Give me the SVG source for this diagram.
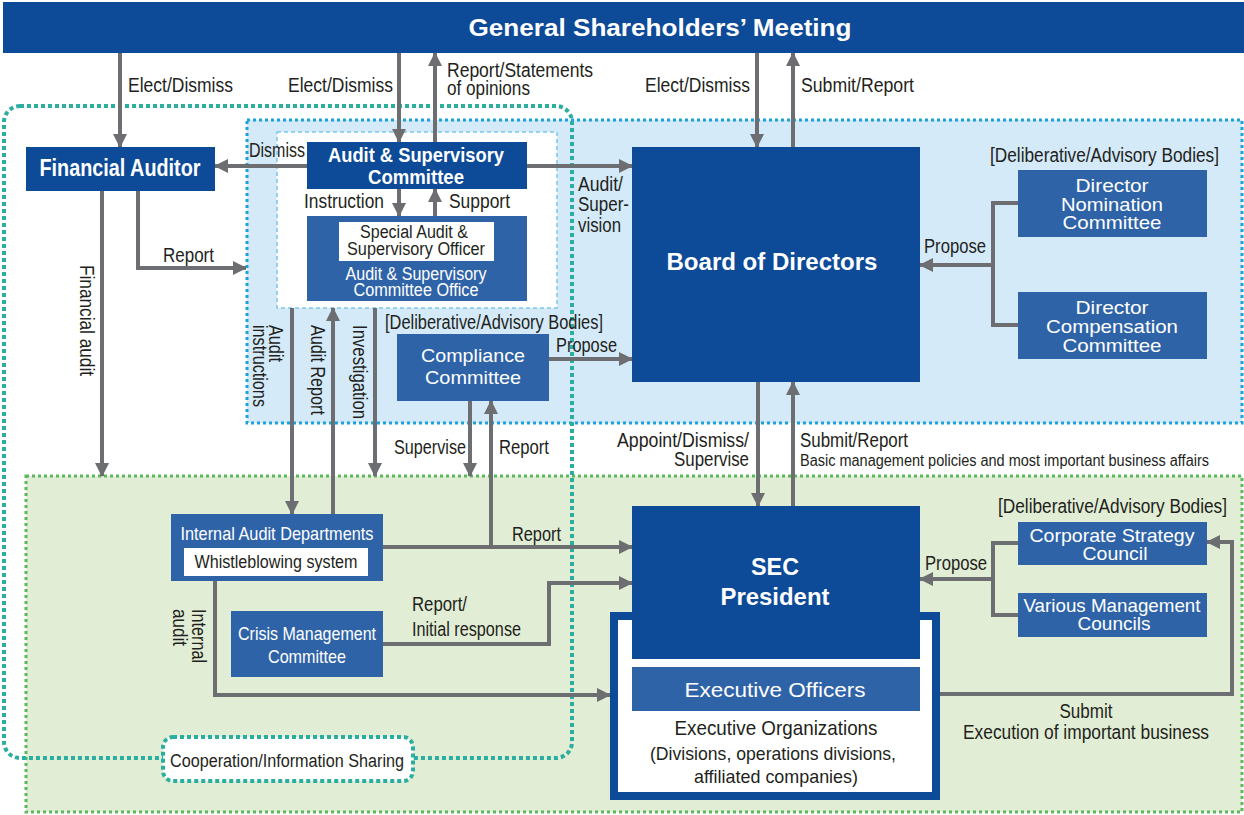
<svg xmlns="http://www.w3.org/2000/svg" width="1244" height="815" viewBox="0 0 1244 815">
<style>
.dk{fill:#0d4a97}
.md{fill:#2f63a8}
.wb{fill:#fff}
text{font-family:"Liberation Sans",Arial,Helvetica,sans-serif}
.lbl{font-size:20px;fill:#231f20}
.wt{fill:#fff}
.bk{fill:#231f20}
.c{text-anchor:middle}
.e{text-anchor:end}
.b{font-weight:bold}
.ln{fill:none;stroke:#6d6e71;stroke-width:4}
.ar{marker-end:url(#ah)}
</style>
<defs>
<marker id="ah" markerUnits="userSpaceOnUse" markerWidth="14" markerHeight="14" refX="13" refY="7" orient="auto" viewBox="0 0 14 14">
<path d="M0,0 L14,7 L0,14 z" fill="#6d6e71"/>
</marker>
</defs>
<rect width="1244" height="815" fill="#fff"/>
<g id="regions">
<rect x="26" y="476" width="1216" height="336" fill="#e1edd4" stroke="#5cb85c" stroke-width="3" stroke-dasharray="3 3"/>
<rect x="247" y="120" width="995" height="303" fill="#d4eaf8" stroke="#1ba1dc" stroke-width="3" stroke-dasharray="3 3"/>
<rect x="277" y="132" width="280" height="176" fill="#fff" stroke="#7cc6ea" stroke-width="1.5" stroke-dasharray="4 3"/>
<rect x="4" y="106" width="568" height="652" rx="16" fill="none" stroke="#2aaea0" stroke-width="4" stroke-dasharray="4 3"/>
</g>
<g id="banner">
<rect x="3" y="2" width="1241" height="51" class="dk"/>
<text x="660" y="36" class="b wt c" font-size="24" textLength="383" lengthAdjust="spacingAndGlyphs">General Shareholders’ Meeting</text>
</g>
<g id="connectors">
<path class="ln ar" d="M120,53 V147"/>
<path class="ln ar" d="M399,53 V142"/>
<path class="ln ar" d="M435,142 V53"/>
<path class="ln ar" d="M757,53 V147"/>
<path class="ln ar" d="M793,147 V53"/>
<path class="ln ar" d="M307,166 H215"/>
<path class="ln ar" d="M527,166 H632"/>
<path class="ln ar" d="M399,189 V216"/>
<path class="ln ar" d="M435,216 V189"/>
<path class="ln ar" d="M138,191 V268 H246"/>
<path class="ln ar" d="M102,191 V476"/>
<path class="ln ar" d="M292,308 V514"/>
<path class="ln ar" d="M333,514 V308"/>
<path class="ln ar" d="M375,308 V476"/>
<path class="ln ar" d="M549,359 H632"/>
<path class="ln ar" d="M470,401 V476"/>
<path class="ln ar" d="M491,547 V401"/>
<path class="ln ar" d="M383,547 H632"/>
<path class="ln ar" d="M383,644 H549 V583 H632"/>
<path class="ln ar" d="M215,581 V695 H610"/>
<path class="ln ar" d="M758,382 V506"/>
<path class="ln ar" d="M793,506 V382"/>
<path class="ln" d="M1018,203 H993 V325 H1018"/>
<path class="ln ar" d="M993,265 H920"/>
<path class="ln" d="M1018,543 H993 V615 H1018"/>
<path class="ln ar" d="M993,579 H920"/>
<path class="ln ar" d="M940,694 H1232 V542 H1207"/>
</g>
<g id="labels">
<text x="128" y="92" class="lbl" textLength="105" lengthAdjust="spacingAndGlyphs">Elect/Dismiss</text>
<text x="393" y="92" class="lbl e" textLength="105" lengthAdjust="spacingAndGlyphs">Elect/Dismiss</text>
<text x="447" y="77" class="lbl" textLength="146" lengthAdjust="spacingAndGlyphs">Report/Statements</text>
<text x="447" y="95" class="lbl" textLength="83" lengthAdjust="spacingAndGlyphs">of opinions</text>
<text x="750" y="92" class="lbl e" textLength="105" lengthAdjust="spacingAndGlyphs">Elect/Dismiss</text>
<text x="801" y="92" class="lbl" textLength="113" lengthAdjust="spacingAndGlyphs">Submit/Report</text>
<text x="249" y="157" class="lbl" textLength="56" lengthAdjust="spacingAndGlyphs">Dismiss</text>
<text x="578" y="191" class="lbl" textLength="45" lengthAdjust="spacingAndGlyphs">Audit/</text>
<text x="578" y="211" class="lbl" textLength="51" lengthAdjust="spacingAndGlyphs">Super-</text>
<text x="578" y="232" class="lbl" textLength="43" lengthAdjust="spacingAndGlyphs">vision</text>
<text x="384" y="208" class="lbl e" textLength="80" lengthAdjust="spacingAndGlyphs">Instruction</text>
<text x="449" y="208" class="lbl" textLength="61" lengthAdjust="spacingAndGlyphs">Support</text>
<text x="163" y="262" class="lbl" textLength="51" lengthAdjust="spacingAndGlyphs">Report</text>
<text class="lbl" transform="translate(80,265) rotate(90)" textLength="111" lengthAdjust="spacingAndGlyphs">Financial audit</text>
<text class="lbl" transform="translate(269,325) rotate(90)" textLength="37" lengthAdjust="spacingAndGlyphs">Audit</text>
<text class="lbl" transform="translate(253,325) rotate(90)" textLength="82" lengthAdjust="spacingAndGlyphs">instructions</text>
<text class="lbl" transform="translate(311,325) rotate(90)" textLength="90" lengthAdjust="spacingAndGlyphs">Audit Report</text>
<text class="lbl" transform="translate(353,325) rotate(90)" textLength="94" lengthAdjust="spacingAndGlyphs">Investigation</text>
<text x="385" y="329" class="lbl" textLength="218" lengthAdjust="spacingAndGlyphs">[Deliberative/Advisory Bodies]</text>
<text x="556" y="352" class="lbl" textLength="61" lengthAdjust="spacingAndGlyphs">Propose</text>
<text x="466" y="454" class="lbl e" textLength="72" lengthAdjust="spacingAndGlyphs">Supervise</text>
<text x="499" y="454" class="lbl" textLength="50" lengthAdjust="spacingAndGlyphs">Report</text>
<text x="512" y="541" class="lbl" textLength="49" lengthAdjust="spacingAndGlyphs">Report</text>
<text x="412" y="611" class="lbl" textLength="55" lengthAdjust="spacingAndGlyphs">Report/</text>
<text x="412" y="636" class="lbl" textLength="109" lengthAdjust="spacingAndGlyphs">Initial response</text>
<text class="lbl" transform="translate(192,609) rotate(90)" textLength="54" lengthAdjust="spacingAndGlyphs">Internal</text>
<text class="lbl" transform="translate(173,609) rotate(90)" textLength="37" lengthAdjust="spacingAndGlyphs">audit</text>
<text x="1219" y="162" class="lbl e" textLength="229" lengthAdjust="spacingAndGlyphs">[Deliberative/Advisory Bodies]</text>
<text x="924" y="253" class="lbl" textLength="62" lengthAdjust="spacingAndGlyphs">Propose</text>
<text x="749" y="447" class="lbl e" textLength="132" lengthAdjust="spacingAndGlyphs">Appoint/Dismiss/</text>
<text x="749" y="466" class="lbl e" textLength="75" lengthAdjust="spacingAndGlyphs">Supervise</text>
<text x="800" y="447" class="lbl" textLength="108" lengthAdjust="spacingAndGlyphs">Submit/Report</text>
<text x="800" y="466" font-size="16" fill="#231f20" textLength="409" lengthAdjust="spacingAndGlyphs">Basic management policies and most important business affairs</text>
<text x="1227" y="513" class="lbl e" textLength="229" lengthAdjust="spacingAndGlyphs">[Deliberative/Advisory Bodies]</text>
<text x="925" y="570" class="lbl" textLength="62" lengthAdjust="spacingAndGlyphs">Propose</text>
<text x="1086" y="718" class="lbl c" textLength="53" lengthAdjust="spacingAndGlyphs">Submit</text>
<text x="1086" y="739" class="lbl c" textLength="246" lengthAdjust="spacingAndGlyphs">Execution of important business</text>
</g>
<g id="financial-auditor">
<rect x="26" y="147" width="189" height="44" class="dk"/>
<text x="120" y="176" class="b wt c" font-size="23" textLength="161" lengthAdjust="spacingAndGlyphs">Financial Auditor</text>
</g>
<g id="audit-supervisory-committee">
<rect x="307" y="142" width="220" height="47" class="dk"/>
<text x="416" y="162" class="b wt c" font-size="21" textLength="176" lengthAdjust="spacingAndGlyphs">Audit &amp; Supervisory</text>
<text x="416" y="184" class="b wt c" font-size="21" textLength="96" lengthAdjust="spacingAndGlyphs">Committee</text>
</g>
<g id="asc-office">
<rect x="307" y="216" width="220" height="85" class="md"/>
<rect x="339" y="222" width="155" height="39" class="wb"/>
<text x="414" y="238" class="bk c" font-size="18" textLength="108" lengthAdjust="spacingAndGlyphs">Special Audit &amp;</text>
<text x="416" y="255" class="bk c" font-size="18" textLength="138" lengthAdjust="spacingAndGlyphs">Supervisory Officer</text>
<text x="416" y="280" class="wt c" font-size="18" textLength="141" lengthAdjust="spacingAndGlyphs">Audit &amp; Supervisory</text>
<text x="416" y="296" class="wt c" font-size="18" textLength="125" lengthAdjust="spacingAndGlyphs">Committee Office</text>
</g>
<g id="board">
<rect x="632" y="147" width="288" height="235" class="dk"/>
<text x="772" y="270" class="b wt c" font-size="23" textLength="211" lengthAdjust="spacingAndGlyphs">Board of Directors</text>
</g>
<g id="director-nomination">
<rect x="1018" y="170" width="189" height="67" class="md"/>
<text x="1112" y="192" class="wt c" font-size="19" textLength="73" lengthAdjust="spacingAndGlyphs">Director</text>
<text x="1112" y="211" class="wt c" font-size="19" textLength="102" lengthAdjust="spacingAndGlyphs">Nomination</text>
<text x="1112" y="229" class="wt c" font-size="19" textLength="99" lengthAdjust="spacingAndGlyphs">Committee</text>
</g>
<g id="director-compensation">
<rect x="1018" y="292" width="189" height="67" class="md"/>
<text x="1112" y="314" class="wt c" font-size="19" textLength="73" lengthAdjust="spacingAndGlyphs">Director</text>
<text x="1112" y="333" class="wt c" font-size="19" textLength="132" lengthAdjust="spacingAndGlyphs">Compensation</text>
<text x="1112" y="352" class="wt c" font-size="19" textLength="99" lengthAdjust="spacingAndGlyphs">Committee</text>
</g>
<g id="compliance">
<rect x="397" y="334" width="152" height="67" class="md"/>
<text x="473" y="362" class="wt c" font-size="19" textLength="104" lengthAdjust="spacingAndGlyphs">Compliance</text>
<text x="473" y="384" class="wt c" font-size="19" textLength="96" lengthAdjust="spacingAndGlyphs">Committee</text>
</g>
<g id="internal-audit">
<rect x="171" y="514" width="212" height="67" class="md"/>
<text x="277" y="540" class="wt c" font-size="19" textLength="193" lengthAdjust="spacingAndGlyphs">Internal Audit Departments</text>
<rect x="184" y="548" width="184" height="28" class="wb"/>
<text x="276" y="568" class="bk c" font-size="18" textLength="163" lengthAdjust="spacingAndGlyphs">Whistleblowing system</text>
</g>
<g id="crisis">
<rect x="231" y="611" width="152" height="66" class="md"/>
<text x="307" y="640" class="wt c" font-size="19" textLength="138" lengthAdjust="spacingAndGlyphs">Crisis Management</text>
<text x="307" y="663" class="wt c" font-size="19" textLength="78" lengthAdjust="spacingAndGlyphs">Committee</text>
</g>
<g id="cooperation">
<rect x="163" y="737" width="250" height="44" rx="10" fill="#fff" stroke="#2aaea0" stroke-width="4" stroke-dasharray="4 3"/>
<text x="287" y="767" class="bk c" font-size="18" textLength="234" lengthAdjust="spacingAndGlyphs">Cooperation/Information Sharing</text>
</g>
<g id="executive-organizations">
<rect x="614" y="616" width="322" height="180" fill="#fff" stroke="#0d4a97" stroke-width="8"/>
<text x="776" y="735" class="bk c" font-size="21" textLength="203" lengthAdjust="spacingAndGlyphs">Executive Organizations</text>
<text x="773" y="760" class="bk c" font-size="19" textLength="246" lengthAdjust="spacingAndGlyphs">(Divisions, operations divisions,</text>
<text x="776" y="783" class="bk c" font-size="19" textLength="164" lengthAdjust="spacingAndGlyphs">affiliated companies)</text>
</g>
<g id="sec-president">
<rect x="632" y="506" width="288" height="153" class="dk"/>
<text x="775" y="575" class="b wt c" font-size="23" textLength="48" lengthAdjust="spacingAndGlyphs">SEC</text>
<text x="775" y="605" class="b wt c" font-size="23" textLength="109" lengthAdjust="spacingAndGlyphs">President</text>
</g>
<g id="executive-officers">
<rect x="632" y="667" width="288" height="44" class="md"/>
<text x="775" y="697" class="wt c" font-size="20" textLength="181" lengthAdjust="spacingAndGlyphs">Executive Officers</text>
</g>
<g id="corporate-strategy">
<rect x="1018" y="522" width="189" height="43" class="md"/>
<text x="1112" y="542" class="wt c" font-size="19" textLength="165" lengthAdjust="spacingAndGlyphs">Corporate Strategy</text>
<text x="1115" y="560" class="wt c" font-size="19" textLength="65" lengthAdjust="spacingAndGlyphs">Council</text>
</g>
<g id="various-management">
<rect x="1018" y="593" width="189" height="44" class="md"/>
<text x="1112" y="612" class="wt c" font-size="19" textLength="177" lengthAdjust="spacingAndGlyphs">Various Management</text>
<text x="1114" y="630" class="wt c" font-size="19" textLength="73" lengthAdjust="spacingAndGlyphs">Councils</text>
</g>
</svg>
